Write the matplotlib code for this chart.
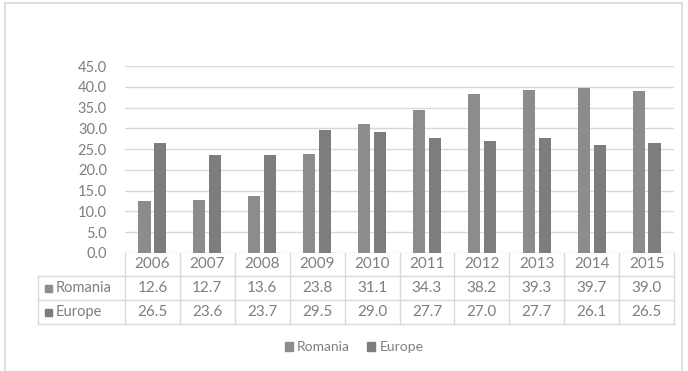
import numpy as np
import matplotlib.pyplot as plt
import matplotlib.transforms as mtransforms
from matplotlib.patches import Patch, Rectangle
from matplotlib.lines import Line2D

# values
years = ['2006', '2007', '2008', '2009', '2010', '2011', '2012', '2013', '2014', '2015']
romania = [12.6, 12.7, 13.6, 23.8, 31.1, 34.3, 38.2, 39.3, 39.7, 39.0]
europe = [26.5, 23.6, 23.7, 29.5, 29.0, 27.7, 27.0, 27.7, 26.1, 26.5]
series_names = ['Romania', 'Europe']
yticks = [0, 5, 10, 15, 20, 25, 30, 35, 40, 45]

col_rom = '#8c8c8c'
col_eur = '#7d7d7d'
txt_col = '#7f7f7f'
grid_col = '#d9d9d9'

plt.rcParams['font.family'] = ['Lato', 'DejaVu Sans']

W, H = 688, 371
fig = plt.figure(figsize=(W / 100, H / 100), dpi=100)


def fy(py):
    return 1 - py / H


# outer chart frame
fig.patches.append(Rectangle((5 / W, -0.05), 677 / W, fy(3) + 0.05, transform=fig.transFigure,
                             fill=False, edgecolor=grid_col, linewidth=1.2))

ax = fig.add_axes([125 / W, fy(253), (674 - 125) / W, (253 - 66) / H])
x = np.arange(len(years))
w = 0.22
off = 0.145
ax.bar(x - off, romania, width=w, color=col_rom, zorder=3)
ax.bar(x + off, europe, width=w, color=col_eur, zorder=3)

ax.set_xlim(-0.5, len(years) - 0.5)
ax.set_ylim(0, 45)
ax.set_yticks(yticks)
ax.set_yticklabels([f'{v:.1f}' for v in yticks], color=txt_col, fontsize=10.5)
ax.tick_params(axis='y', length=0, pad=13)
ax.set_xticks([])
ax.grid(axis='y', color=grid_col, linewidth=1, zorder=0)
for s in ax.spines.values():
    s.set_visible(False)

# data table under the plot
tr = mtransforms.blended_transform_factory(ax.transData, fig.transFigure)
row_y = [253, 276, 300, 324]  # pixel boundaries of the 3 table rows
line_kw = dict(color=grid_col, linewidth=1)

for yb in row_y[1:]:
    fig.add_artist(Line2D([38 / W, 674 / W], [fy(yb), fy(yb)], transform=fig.transFigure, **line_kw))
fig.add_artist(Line2D([38 / W, 38 / W], [fy(276), fy(324)], transform=fig.transFigure, **line_kw))
for i in range(len(years) + 1):
    fig.add_artist(Line2D([i - 0.5, i - 0.5], [fy(253), fy(324)], transform=tr, **line_kw))

centers = [(row_y[k] + row_y[k + 1]) / 2 for k in range(3)]
for i, yr in enumerate(years):
    ax.text(i, fy(centers[0]), yr, transform=tr, ha='center', va='center', color=txt_col, fontsize=11)
    ax.text(i, fy(centers[1]), f'{romania[i]:.1f}', transform=tr, ha='center', va='center',
            color=txt_col, fontsize=11)
    ax.text(i, fy(centers[2]), f'{europe[i]:.1f}', transform=tr, ha='center', va='center',
            color=txt_col, fontsize=11)

for k, (name, c) in enumerate(zip(series_names, [col_rom, col_eur])):
    yc = fy(centers[k + 1])
    fig.patches.append(Rectangle((45 / W, yc - 3.5 / H), 7 / W, 7 / H, transform=fig.transFigure,
                                 color=c))
    fig.text(56 / W, yc, name, ha='left', va='center', color=txt_col, fontsize=10.5)

handles = [Patch(color=col_rom, label=series_names[0]), Patch(color=col_eur, label=series_names[1])]
fig.legend(handles=handles, loc='center', bbox_to_anchor=(354 / W, fy(347)), ncol=2, frameon=False,
           handlelength=0.6, handleheight=0.6, handletextpad=0.3, columnspacing=1.2,
           labelcolor=txt_col, fontsize=10)

fig.savefig('out.png', dpi=100, facecolor='white')
